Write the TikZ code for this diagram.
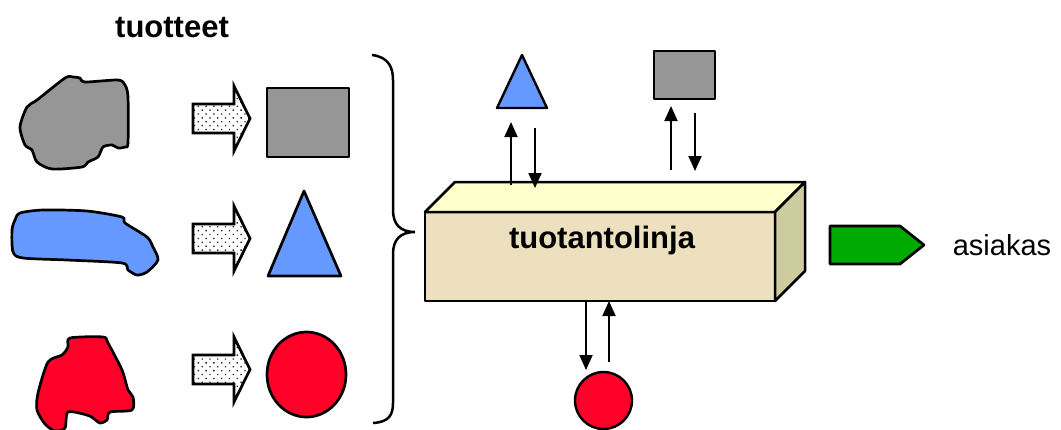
\documentclass[tikz,border=0pt]{standalone}
\usepackage{fontspec}
\setmainfont{Liberation Sans}
\usetikzlibrary{arrows.meta,patterns.meta,shapes.geometric}
\begin{document}
\begin{tikzpicture}[x=1pt, y=-1pt]
  % Colors
  \definecolor{graycol}{RGB}{150,150,150}
  \definecolor{bluecol}{RGB}{102,153,255}
  \definecolor{redcol}{RGB}{255,0,40}
  \definecolor{greencol}{RGB}{0,170,0}
  \definecolor{frontcol}{RGB}{237,224,190}
  \definecolor{topcol}{RGB}{255,255,204}
  \definecolor{sidecol}{RGB}{204,204,158}
  %
  \tikzset{
    shp/.style={draw, line width=2.7pt, line join=round},
    face/.style={draw, line width=2.5pt, line join=round, inner sep=0pt, outer sep=0pt},
    arr/.style={-{Triangle[length=15pt,width=13pt]}, line width=1.9pt},
    fat/.style={draw, line width=2.7pt, line join=miter,
                pattern={Dots[distance=5.5pt, angle=45, radius=0.95pt]}, pattern color=black!85},
    bigtxt/.style={font=\fontsize{31}{36}\selectfont\bfseries, inner sep=0pt},
  }
  \useasboundingbox (0,0) rectangle (1061,429);
  %
  % === TITLE ===
  \node[bigtxt] (title) at (172,28) {tuotteet};
  %
  % === RAW MATERIAL BLOBS ===
  \draw[shp, fill=graycol] plot[smooth cycle, tension=0.45] coordinates {
    (65,78) (73,77) (80,78) (85,82) (118,80) (125,85) (128,97) (128,143)
    (125,147) (118,148) (112,145) (103,147) (98,157) (88,162) (82,167)
    (52,169) (37,162) (32,150) (25,145) (20,127) (27,107) (37,100)};
  \draw[shp, fill=bluecol] plot[smooth cycle, tension=0.45] coordinates {
    (20,213) (43,210) (87,211) (122,217) (125,223) (147,237) (153,247)
    (158,260) (147,272) (137,275) (128,270) (122,263) (67,260) (23,258)
    (13,252) (12,230) (15,220)};
  \draw[shp, fill=redcol] plot[smooth cycle, tension=0.45] coordinates {
    (70,338) (103,337) (108,343) (122,370) (128,390) (133,397) (132,410)
    (110,412) (107,420) (100,423) (93,418) (87,415) (68,412) (65,428)
    (55,431) (45,424) (37,410) (38,393) (48,362) (62,355) (68,347)};
  %
  % === BLOCK ARROWS ===
  \foreach \yc in {118.5, 238.5, 369.5} {
    \path[fat] (193,\yc-14.5) -- (234,\yc-14.5) -- (234,\yc-32.5) -- (250,\yc)
      -- (234,\yc+32.5) -- (234,\yc+14.5) -- (193,\yc+14.5) -- cycle;
  }
  %
  % === FINISHED PRODUCTS ===
  \node[shp, fill=graycol, rectangle, minimum width=82pt, minimum height=69pt,
        inner sep=0pt] (sq) at (308,122.5) {};
  \draw[shp, fill=bluecol] (304,191) -- (341,276) -- (268,276) -- cycle;
  \node[shp, fill=redcol, ellipse, minimum width=79pt, minimum height=85pt,
        inner sep=0pt] (circ) at (306.5,374.5) {};
  %
  % === BRACE ===
  \draw[line width=2.5pt] (372,55) .. controls (389,57) and (393,68) .. (393,80)
    -- (393,210) .. controls (393,224) and (400,232) .. (415,232)
    .. controls (400,232) and (393,240) .. (393,254)
    -- (393,403) .. controls (393,415) and (389,422) .. (373,423);
  %
  % === PRODUCTION LINE (cuboid) ===
  \node[face, fill=frontcol, minimum width=350pt, minimum height=89pt] (line) at (600,256.5) {};
  \draw[face, fill=topcol] (line.north west) -- ++(30,-30) -- ++(350,0)
    -- (line.north east) -- cycle;
  \draw[face, fill=sidecol] (line.north east) -- ++(30,-30) -- ++(0,89)
    -- (line.south east) -- cycle;
  \node[bigtxt] (linetxt) at (602,240) {tuotantolinja};
  %
  % === PARTS IN AND OUT ===
  \draw[shp, line width=2.4pt, fill=bluecol] (522,55) -- (547,108) -- (497,108) -- cycle;
  \node[shp, line width=2.4pt, fill=graycol, rectangle, minimum width=61pt, minimum height=48pt,
        inner sep=0pt] (sqtop) at (684.5,75) {};
  \node[shp, line width=2.4pt, fill=redcol, circle, minimum size=57pt,
        inner sep=0pt] (circbot) at (603.5,400.5) {};
  %
  \coordinate (triout) at (511,122);
  \coordinate (triin) at (535,128);
  \coordinate (sqout) at (671,106);
  \coordinate (sqin) at (695,113);
  \draw[arr] (511,185) -- (triout);
  \draw[arr] (triin) -- (535,188);
  \draw[arr] (671,170) -- (sqout);
  \draw[arr] (sqin) -- (695,171);
  \draw[arr] (line.south -| 586,0) -- (586,370);
  \draw[arr] (609,362) -- (line.south -| 609,0);
  %
  % === CUSTOMER ===
  \draw[shp, fill=greencol] (830,226) -- (900,226) -- (924,245) -- (900,264)
    -- (830,264) -- cycle;
  \node[font=\fontsize{29}{34}\selectfont, inner sep=0pt] (customer) at (1002,245) {asiakas};
\end{tikzpicture}
\end{document}
